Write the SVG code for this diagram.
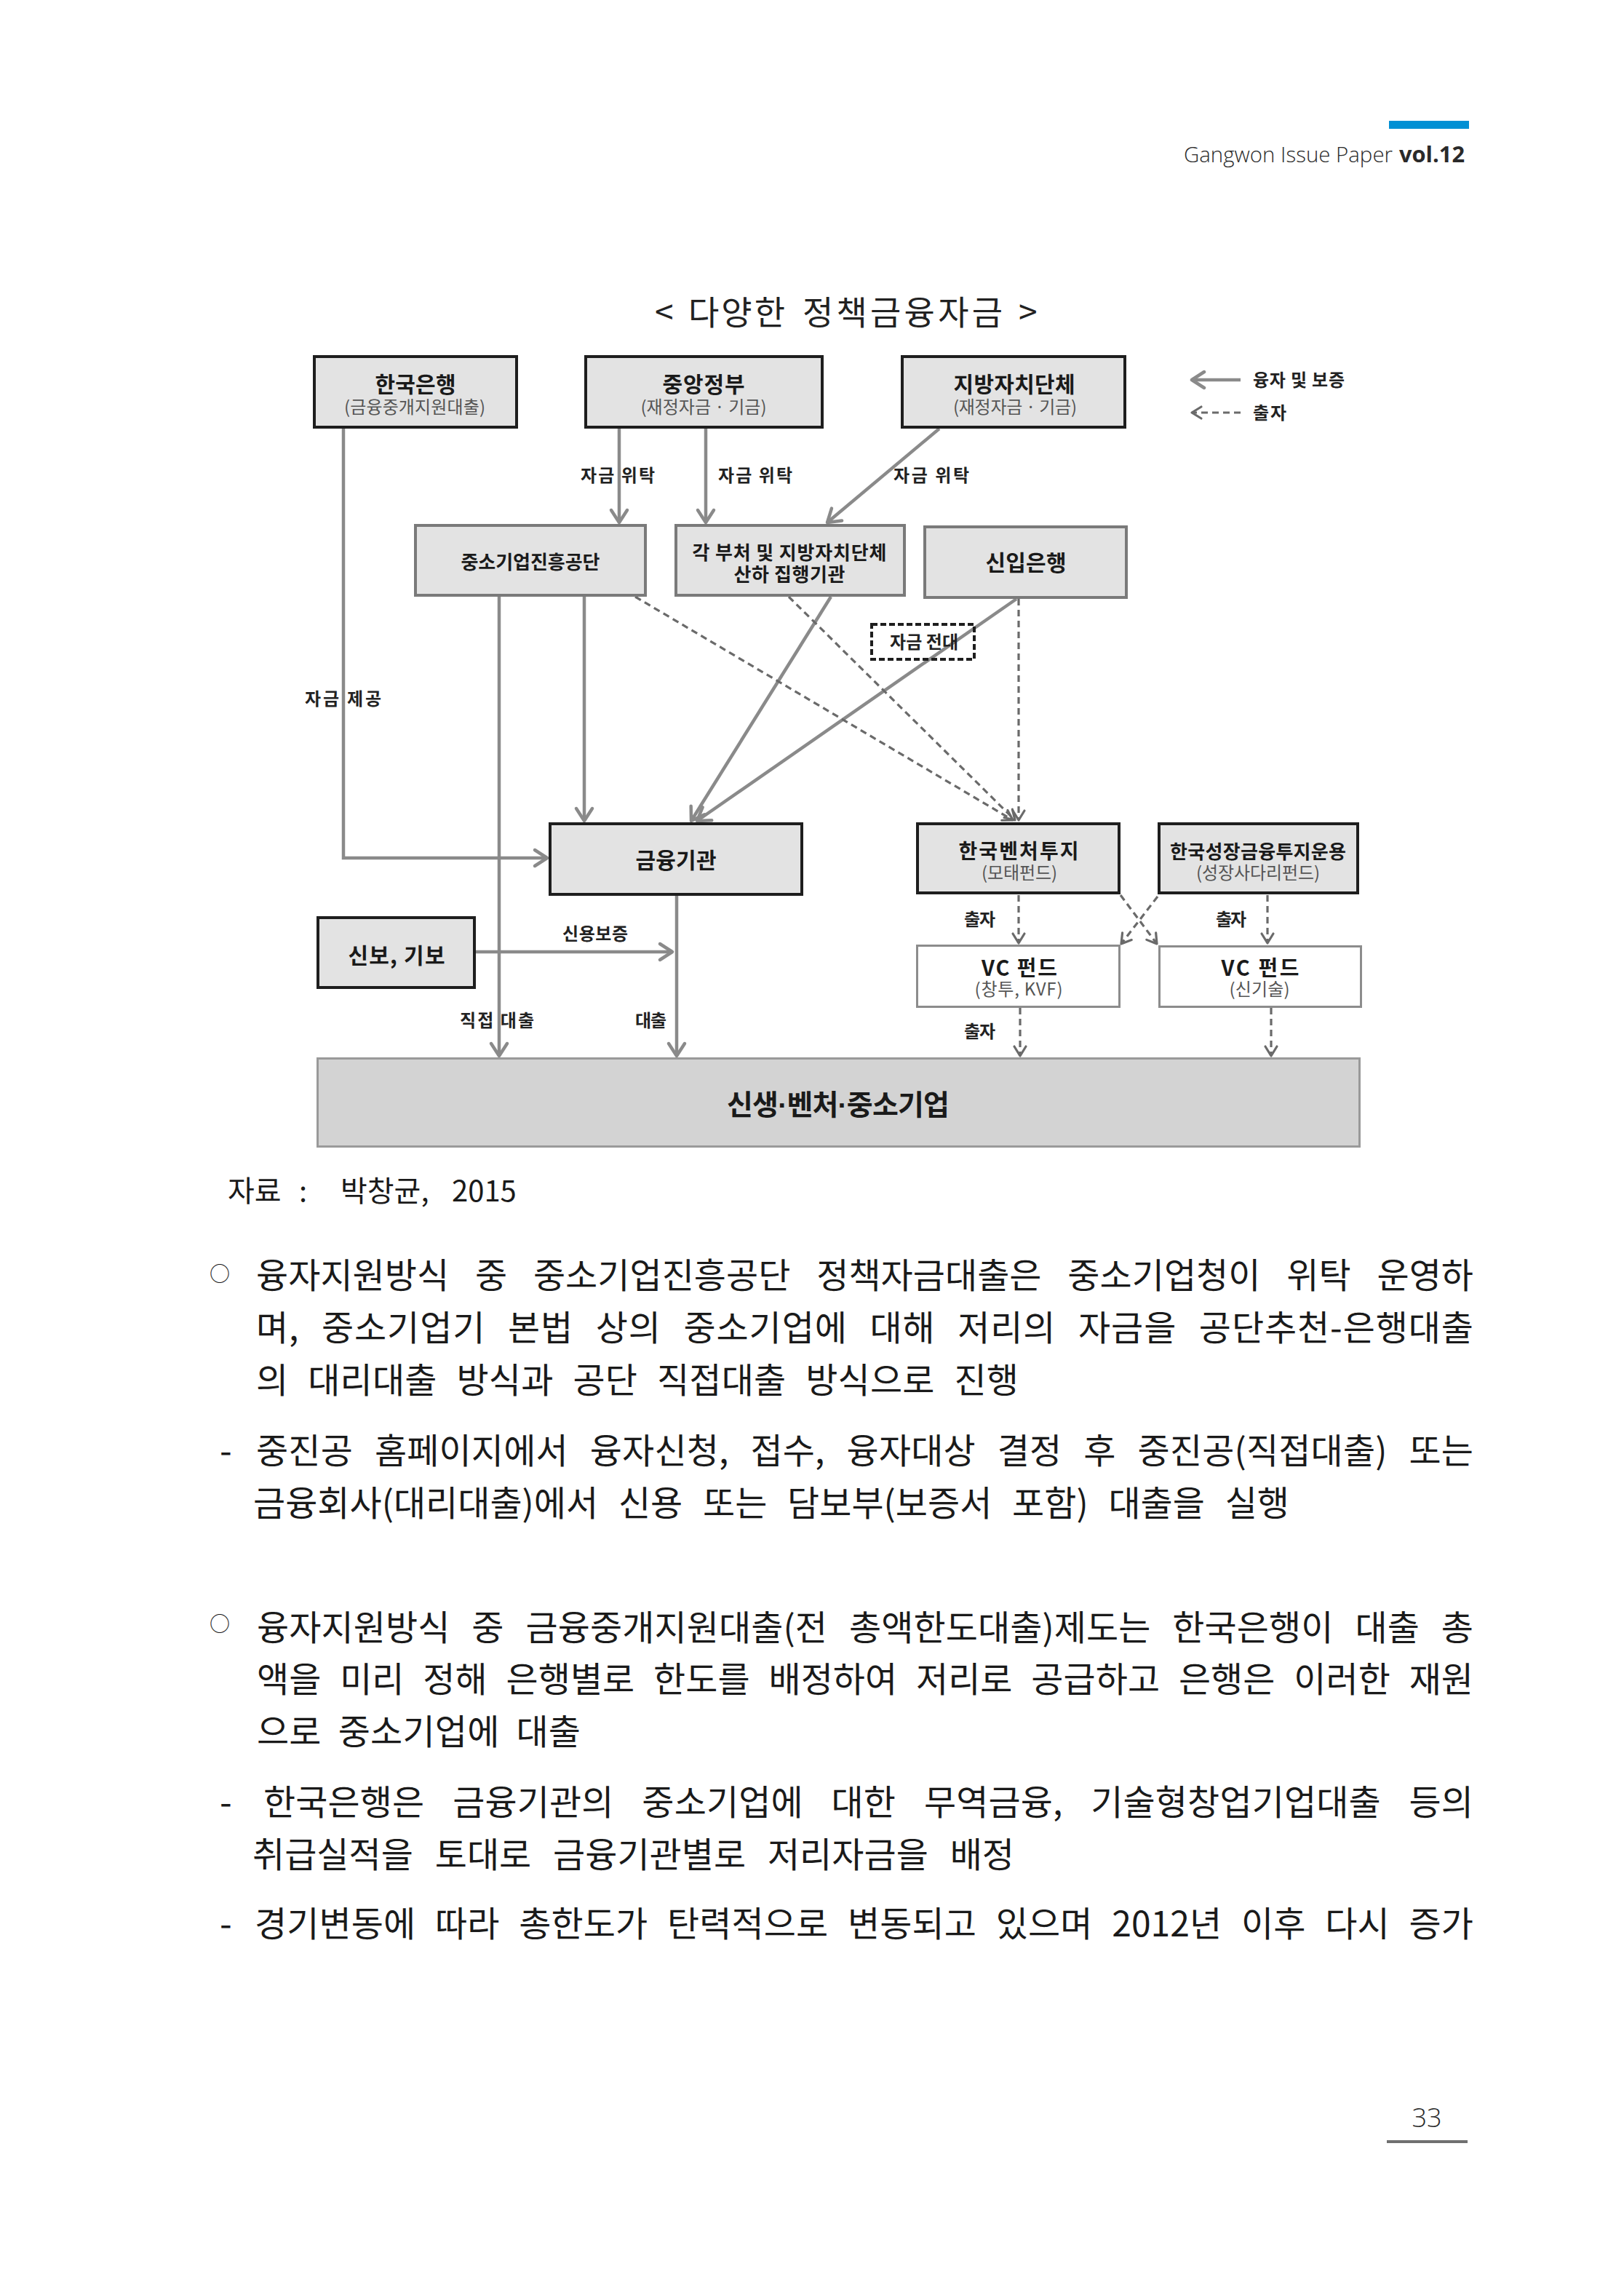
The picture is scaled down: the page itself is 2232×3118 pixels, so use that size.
<svg xmlns="http://www.w3.org/2000/svg" width="2232" height="3118" viewBox="0 0 2232 3118">
<defs>
<style>
.ff{font-family:"Noto Sans CJK KR","Noto Sans",sans-serif}
.box{fill:#e3e3e3;stroke:#1e1e1e;stroke-width:4}
.boxg{fill:#e3e3e3;stroke:#7a7a7a;stroke-width:4}
.vc{fill:#ffffff;stroke:#8c8c8c;stroke-width:3}
.base{fill:#d3d3d3;stroke:#9a9a9a;stroke-width:3}
.t{font-family:"Noto Sans CJK KR",sans-serif;font-weight:700;fill:#1a1a1a;text-anchor:middle}
.sub{font-family:"Noto Sans CJK KR",sans-serif;font-weight:400;fill:#555555;font-size:24px;text-anchor:middle}
.lbl{font-family:"Noto Sans CJK KR",sans-serif;font-weight:700;font-size:24px;fill:#222222}
.sc{fill:none;stroke:#8a8a8a;stroke-width:4.5}
.dc{fill:none;stroke:#6a6a6a;stroke-width:3.2;stroke-dasharray:9 6}
.body{font-family:"Noto Sans CJK KR",sans-serif;font-size:48px;fill:#1a1a1a;font-weight:400}
.bul{font-family:"Noto Sans CJK KR",sans-serif;font-size:28px;fill:#1a1a1a}
.hdr{font-family:"Open Sans","Noto Sans",sans-serif;fill:#2a2a2a}
</style>
<marker id="ah" viewBox="-22 -15 26 30" refX="0" refY="0" markerWidth="26" markerHeight="30" orient="auto" markerUnits="userSpaceOnUse">
<path d="M-17,-11 L0,0 L-17,11" fill="none" stroke="#8a8a8a" stroke-width="4.5" stroke-linecap="round" stroke-linejoin="round"/>
</marker>
<marker id="ahd" viewBox="-18 -12 22 24" refX="0" refY="0" markerWidth="22" markerHeight="24" orient="auto" markerUnits="userSpaceOnUse">
<path d="M-13,-8 L0,0 L-13,8" fill="none" stroke="#6a6a6a" stroke-width="3.2" stroke-linecap="round" stroke-linejoin="round"/>
</marker>
</defs>
<rect x="0" y="0" width="2232" height="3118" fill="#ffffff"/>

<g id="header">
<rect x="1909" y="166" width="110" height="11" fill="#0090d4"/>
<text class="hdr" x="1627" y="223" font-size="30" font-weight="300" textLength="287" lengthAdjust="spacingAndGlyphs">Gangwon Issue Paper</text>
<text class="hdr" x="1923" y="223" font-size="30" font-weight="700" textLength="90" lengthAdjust="spacingAndGlyphs">vol.12</text>
</g>

<g id="title">
<text class="ff" x="900" y="446" font-size="46" fill="#222222">&lt;</text>
<text class="ff" x="946" y="446" font-size="46" fill="#222222" textLength="133" lengthAdjust="spacing">다양한</text>
<text class="ff" x="1103" y="446" font-size="46" fill="#222222" textLength="275" lengthAdjust="spacing">정책금융자금</text>
<text class="ff" x="1400" y="446" font-size="46" fill="#222222">&gt;</text>
</g>

<g id="connectors">
<path class="sc" d="M472,589 V1179 H752" marker-end="url(#ah)"/>
<path class="sc" d="M851,589 V718" marker-end="url(#ah)"/>
<path class="sc" d="M970,589 V718" marker-end="url(#ah)"/>
<path class="sc" d="M1291,589 L1137,718" marker-end="url(#ah)"/>
<path class="sc" d="M686,820 V1451" marker-end="url(#ah)"/>
<path class="sc" d="M803,820 V1128" marker-end="url(#ah)"/>
<path class="sc" d="M1142,820 L950,1128" marker-end="url(#ah)"/>
<path class="sc" d="M1397,823 L958,1128" marker-end="url(#ah)"/>
<path class="sc" d="M654,1308 H924" marker-end="url(#ah)"/>
<path class="sc" d="M930,1231 V1451" marker-end="url(#ah)"/>
<path class="dc" d="M873,820 L1392,1127" marker-end="url(#ahd)"/>
<path class="dc" d="M1084,820 L1395,1127" marker-end="url(#ahd)"/>
<path class="dc" d="M1400,823 V1127" marker-end="url(#ahd)"/>
<path class="dc" d="M1400,1230 V1296" marker-end="url(#ahd)"/>
<path class="dc" d="M1742,1230 V1296" marker-end="url(#ahd)"/>
<path class="dc" d="M1540,1230 L1590,1297" marker-end="url(#ahd)"/>
<path class="dc" d="M1591,1232 L1541,1297" marker-end="url(#ahd)"/>
<path class="dc" d="M1402,1385 V1451" marker-end="url(#ahd)"/>
<path class="dc" d="M1747,1385 V1451" marker-end="url(#ahd)"/>
<text class="lbl" x="798" y="662" textLength="102" lengthAdjust="spacing">자금 위탁</text>
<text class="lbl" x="987" y="662" textLength="102" lengthAdjust="spacing">자금 위탁</text>
<text class="lbl" x="1228" y="662" textLength="104" lengthAdjust="spacing">자금 위탁</text>
<text class="lbl" x="419" y="969" textLength="105" lengthAdjust="spacing">자금 제공</text>
<text class="lbl" x="773" y="1292" textLength="90" lengthAdjust="spacing">신용보증</text>
<text class="lbl" x="632" y="1411" textLength="102" lengthAdjust="spacing">직접 대출</text>
<text class="lbl" x="873" y="1411" textLength="43" lengthAdjust="spacing">대출</text>
<text class="lbl" x="1325" y="1272" textLength="43" lengthAdjust="spacing">출자</text>
<text class="lbl" x="1671" y="1272" textLength="42" lengthAdjust="spacing">출자</text>
<text class="lbl" x="1325" y="1426" textLength="43" lengthAdjust="spacing">출자</text>
</g>

<g id="legend">
<path class="sc" d="M1705,522 H1638" marker-end="url(#ah)"/>
<path class="dc" d="M1705,567 H1638" stroke-dasharray="8 5" marker-end="url(#ahd)"/>
<text class="lbl" x="1722" y="531" textLength="126" lengthAdjust="spacing">융자 및 보증</text>
<text class="lbl" x="1722" y="576" textLength="46" lengthAdjust="spacing">출자</text>
</g>

<g id="n-bok">
<rect class="box" x="432" y="490" width="278" height="97"/>
<text class="t" x="571" y="539" font-size="30" textLength="111" lengthAdjust="spacing">한국은행</text>
<text class="sub" x="570" y="568" textLength="194" lengthAdjust="spacing">(금융중개지원대출)</text>
</g>
<g id="n-central">
<rect class="box" x="805" y="490" width="325" height="97"/>
<text class="t" x="967" y="539" font-size="30" textLength="113" lengthAdjust="spacing">중앙정부</text>
<text class="sub" x="967" y="568" textLength="173" lengthAdjust="spacing">(재정자금 · 기금)</text>
</g>
<g id="n-local">
<rect class="box" x="1240" y="490" width="306" height="97"/>
<text class="t" x="1394" y="539" font-size="30" textLength="167" lengthAdjust="spacing">지방자치단체</text>
<text class="sub" x="1395" y="568" textLength="170" lengthAdjust="spacing">(재정자금 · 기금)</text>
</g>
<g id="n-sbc">
<rect class="boxg" x="571" y="722" width="316" height="96"/>
<text class="t" x="729" y="782" font-size="26" textLength="191" lengthAdjust="spacing">중소기업진흥공단</text>
</g>
<g id="n-agencies">
<rect class="boxg" x="929" y="722" width="314" height="96"/>
<text class="t" x="1085" y="769" font-size="26" textLength="267" lengthAdjust="spacing">각 부처 및 지방자치단체</text>
<text class="t" x="1085" y="799" font-size="26" textLength="153" lengthAdjust="spacing">산하 집행기관</text>
</g>
<g id="n-ibk">
<rect class="boxg" x="1271" y="724" width="277" height="97"/>
<text class="t" x="1410" y="784" font-size="30" textLength="111" lengthAdjust="spacing">신입은행</text>
</g>
<g id="n-onlend">
<rect x="1198" y="858" width="141" height="48" fill="none" stroke="#1e1e1e" stroke-width="4" stroke-dasharray="8 4"/>
<text class="lbl" x="1270" y="891" text-anchor="middle" textLength="94" lengthAdjust="spacing">자금 전대</text>
</g>
<g id="n-fin">
<rect class="box" x="756" y="1132" width="346" height="97"/>
<text class="t" x="929" y="1193" font-size="30" font-weight="500" textLength="111" lengthAdjust="spacing">금융기관</text>
</g>
<g id="n-guar">
<rect class="box" x="437" y="1261" width="215" height="96"/>
<text class="t" x="545" y="1324" font-size="30" textLength="133" lengthAdjust="spacing">신보, 기보</text>
</g>
<g id="n-kvic">
<rect class="box" x="1261" y="1132" width="277" height="95"/>
<text class="t" x="1400" y="1180" font-size="28" textLength="165" lengthAdjust="spacing">한국벤처투지</text>
<text class="sub" x="1401" y="1208" textLength="104" lengthAdjust="spacing">(모태펀드)</text>
</g>
<g id="n-kgrowth">
<rect class="box" x="1593" y="1132" width="273" height="95"/>
<text class="t" x="1729" y="1180" font-size="26" textLength="242" lengthAdjust="spacing">한국성장금융투지운용</text>
<text class="sub" x="1729" y="1208" textLength="170" lengthAdjust="spacing">(성장사다리펀드)</text>
</g>
<g id="n-vc1">
<rect class="vc" x="1260.5" y="1299.5" width="278" height="84"/>
<text class="t" x="1401" y="1341" font-size="29" textLength="104" lengthAdjust="spacing">VC 펀드</text>
<text class="sub" x="1400" y="1368" textLength="121" lengthAdjust="spacing">(창투, KVF)</text>
</g>
<g id="n-vc2">
<rect class="vc" x="1593.5" y="1300.5" width="277" height="83"/>
<text class="t" x="1732" y="1341" font-size="29" textLength="107" lengthAdjust="spacing">VC 펀드</text>
<text class="sub" x="1731" y="1368" textLength="83" lengthAdjust="spacing">(신기술)</text>
</g>
<g id="n-sme">
<rect class="base" x="436.5" y="1454.5" width="1432" height="121"/>
<text class="t" x="1152" y="1532" font-size="39" textLength="306" lengthAdjust="spacing">신생<tspan font-family="Liberation Sans" font-weight="700">·</tspan>벤처<tspan font-family="Liberation Sans" font-weight="700">·</tspan>중소기업</text>
</g>

<g id="source">
<text class="ff" y="1651" font-size="40" fill="#1a1a1a"><tspan x="313">자료</tspan><tspan x="411">:</tspan><tspan x="468">박창균,</tspan><tspan x="621">2015</tspan></text>
</g>

<g id="bodytext">
<text class="bul" x="288" y="1761">○</text>
<text class="body" x="352" y="1770" word-spacing="25" textLength="1673" lengthAdjust="spacing">융자지원방식 중 중소기업진흥공단 정책자금대출은 중소기업청이 위탁 운영하</text>
<text class="body" x="352" y="1842" word-spacing="19" textLength="1673" lengthAdjust="spacing">며, 중소기업기 본법 상의 중소기업에 대해 저리의 자금을 공단추천-은행대출</text>
<text class="body" x="352" y="1914" word-spacing="16" textLength="1048" lengthAdjust="spacing">의 대리대출 방식과 공단 직접대출 방식으로 진행</text>
<text class="body" x="302" y="2011">-</text>
<text class="body" x="352" y="2011" word-spacing="19" textLength="1673" lengthAdjust="spacing">중진공 홈페이지에서 융자신청, 접수, 융자대상 결정 후 중진공(직접대출) 또는</text>
<text class="body" x="348" y="2083" word-spacing="17" textLength="1424" lengthAdjust="spacing">금융회사(대리대출)에서 신용 또는 담보부(보증서 포함) 대출을 실행</text>
<text class="bul" x="288" y="2242">○</text>
<text class="body" x="353" y="2254" word-spacing="19" textLength="1672" lengthAdjust="spacing">융자지원방식 중 금융중개지원대출(전 총액한도대출)제도는 한국은행이 대출 총</text>
<text class="body" x="353" y="2325" word-spacing="15" textLength="1672" lengthAdjust="spacing">액을 미리 정해 은행별로 한도를 배정하여 저리로 공급하고 은행은 이러한 재원</text>
<text class="body" x="353" y="2397" word-spacing="12" textLength="445" lengthAdjust="spacing">으로 중소기업에 대출</text>
<text class="body" x="302" y="2494">-</text>
<text class="body" x="362" y="2494" word-spacing="28" textLength="1663" lengthAdjust="spacing">한국은행은 금융기관의 중소기업에 대한 무역금융, 기술형창업기업대출 등의</text>
<text class="body" x="347" y="2566" word-spacing="19" textLength="1047" lengthAdjust="spacing">취급실적을 토대로 금융기관별로 저리자금을 배정</text>
<text class="body" x="302" y="2661">-</text>
<text class="body" x="350" y="2661" word-spacing="16" textLength="1675" lengthAdjust="spacing">경기변동에 따라 총한도가 탄력적으로 변동되고 있으며 2012년 이후 다시 증가</text>
</g>

<g id="footer">
<text class="hdr" x="1961" y="2923" font-size="36" font-weight="300" text-anchor="middle">33</text>
<rect x="1906" y="2941" width="111" height="4" fill="#707070"/>
</g>
</svg>
